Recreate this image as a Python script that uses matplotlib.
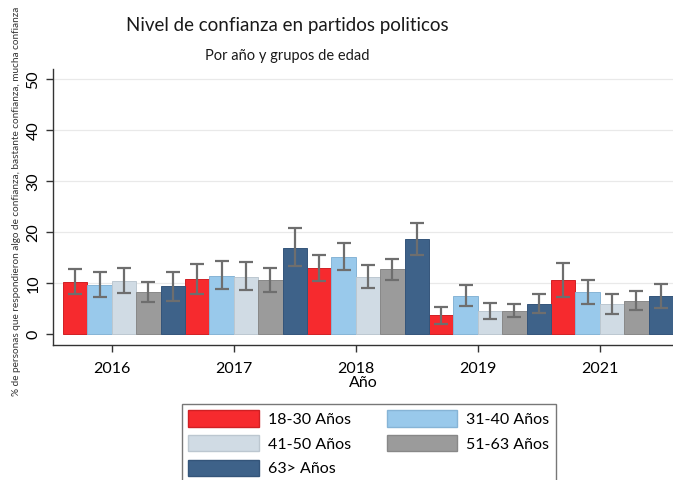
import matplotlib
matplotlib.use("Agg")
import matplotlib.pyplot as plt
import numpy as np
from matplotlib.patches import Patch

plt.rcParams['font.family'] = ['Lato', 'DejaVu Sans']

years = ["2016", "2017", "2018", "2019", "2021"]
groups = ["18-30 Años", "31-40 Años", "41-50 Años", "51-63 Años", "63> Años"]

# values per group (rows) across years (columns)
means = [
    [10.3, 10.9, 12.9, 3.7, 10.7],   # 18-30
    [9.7, 11.5, 15.2, 7.6, 8.3],     # 31-40
    [10.5, 11.3, 11.3, 4.5, 5.9],    # 41-50
    [8.2, 10.7, 12.7, 4.5, 6.6],     # 51-63
    [9.4, 17.0, 18.6, 5.9, 7.5],     # 63>
]
upper = [
    [12.8, 13.8, 15.5, 5.3, 13.9],
    [12.2, 14.4, 17.8, 9.6, 10.7],
    [12.9, 14.2, 13.6, 6.1, 7.9],
    [10.3, 13.0, 14.8, 5.9, 8.5],
    [12.2, 20.8, 21.8, 7.9, 9.9],
]
lower = [
    [7.8, 7.8, 10.5, 2.1, 7.4],
    [7.3, 8.8, 12.6, 5.5, 5.9],
    [8.0, 8.7, 9.0, 2.9, 4.0],
    [6.25, 8.3, 10.6, 3.3, 4.8],
    [6.6, 13.3, 15.6, 4.2, 5.1],
]

colors = ["#f62a2e", "#99c9eb", "#d0dbe4", "#9b9b9b", "#3e6289"]
edges = ["#d02024", "#86b4d6", "#bcc7d0", "#888888", "#34557a"]

fig = plt.figure(figsize=(6.73, 4.8), dpi=100)
ax = fig.add_axes([53/673, 1-345/480, 620/673, (345-69)/480])

ngroups = len(groups)
for k in range(ngroups):
    xs = np.arange(len(years)) * ngroups + k
    ax.bar(xs, means[k], width=1.0, color=colors[k], edgecolor=edges[k],
           linewidth=0.7, zorder=2)
    m = np.array(means[k])
    yerr = [m - np.array(lower[k]), np.array(upper[k]) - m]
    ax.errorbar(xs, m, yerr=yerr, fmt='none', ecolor="#6e6e6e",
                elinewidth=1.6, capsize=5, capthick=1.6, zorder=3)

ax.set_xlim(-0.91, 24.5)
ax.set_ylim(-2.1, 52)
ax.set_yticks([0, 10, 20, 30, 40, 50])
ax.set_yticklabels(["0", "10", "20", "30", "40", "50"], rotation=90, va='center',
                   fontsize=11.5)
ax.set_xticks(np.arange(len(years)) * ngroups + 1.5)
ax.set_xticklabels(years, fontsize=11.5)
ax.tick_params(axis='both', direction='out', length=5, width=1, color="#333333")
ax.tick_params(axis='x', pad=7)
ax.tick_params(axis='y', pad=4)
for y in [10, 20, 30, 40, 50]:
    ax.axhline(y, color="#e9e9e9", lw=0.9, zorder=0)
for s in ['top', 'right']:
    ax.spines[s].set_visible(False)
for s in ['left', 'bottom']:
    ax.spines[s].set_color("#333333")
    ax.spines[s].set_linewidth(1.0)

ax.set_xlabel("Año", fontsize=11.5, labelpad=0)
fig.text(17/673, 1-201/480,
         "% de personas que respondieron algo de confianza, bastante confianza, mucha confianza",
         rotation=90, ha='center', va='center', fontsize=7.2, color="#333333")

fig.text(287/673, 1-26/480, "Nivel de confianza en partidos politicos",
         ha='center', va='center', fontsize=13.5, color="#1a1a1a")
fig.text(287/673, 1-56/480, "Por año y grupos de edad",
         ha='center', va='center', fontsize=10.5, color="#1a1a1a")

handles = [Patch(facecolor=colors[k], edgecolor=edges[k]) for k in range(ngroups)]
order = [0, 2, 4, 1, 3]
leg = fig.legend([handles[i] for i in order], [groups[i] for i in order],
                 ncol=2, loc='upper left', bbox_to_anchor=(182/673, 1-404/480),
                 borderaxespad=0,
                 frameon=True, fancybox=False, edgecolor="#555555",
                 fontsize=11.5, handlelength=4.4, handleheight=1.2,
                 handletextpad=0.6, columnspacing=2.2, labelspacing=0.5,
                 borderpad=0.4)
leg.get_frame().set_linewidth(1.0)

fig.savefig("out.png", dpi=100)
